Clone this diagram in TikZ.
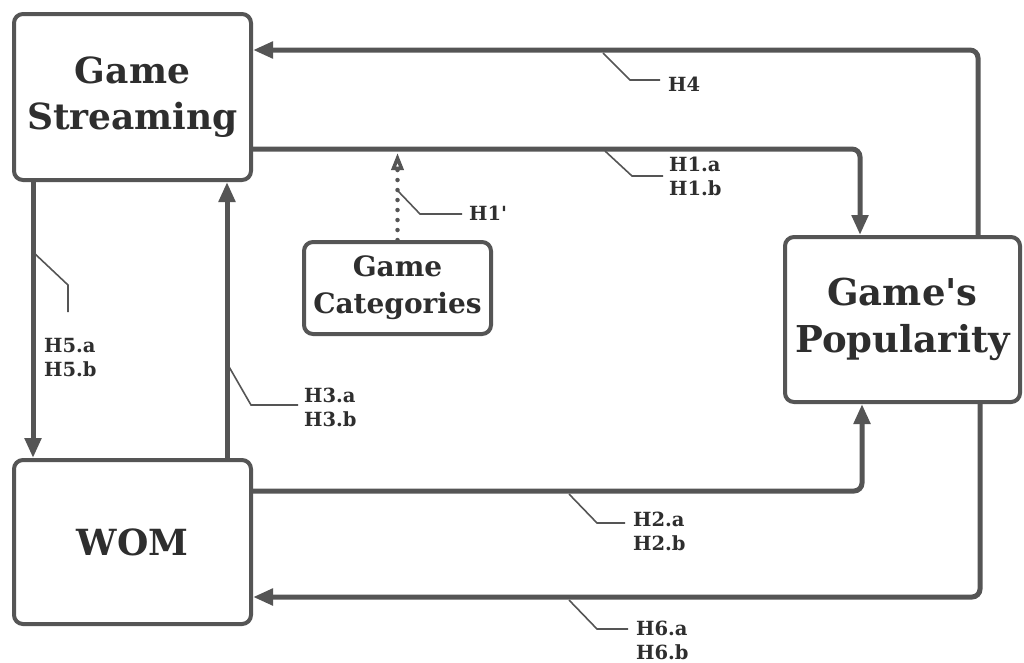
\documentclass[tikz,border=0pt]{standalone}
\usepackage{fontspec}
\setmainfont{DejaVu Serif}
\usetikzlibrary{arrows.meta}
\definecolor{ln}{HTML}{555555}
\definecolor{tx}{HTML}{2E2E2E}
\newcommand{\apo}{\XeTeXglyph\XeTeXglyphindex "quotesingle"\relax}
\begin{document}
\begin{tikzpicture}[x=1pt,y=-1pt,
  box/.style={draw=ln,line width=4pt,rounded corners=9pt,fill=white,align=center,text=tx,font=\bfseries,inner sep=0pt},
  conn/.style={draw=ln,line width=5pt,rounded corners=8pt,-{Triangle[length=20pt,width=16pt]}},
  dotconn/.style={draw=ln,line width=4.5pt,line cap=round,dash pattern=on 0pt off 10pt,-{Triangle[open,length=17pt,width=12pt,line width=3.5pt]}},
  lead/.style={draw=ln,line width=1.6pt},
  lab/.style={anchor=west,inner sep=0pt,align=left,text=tx,font=\fontsize{19.5}{24}\selectfont\bfseries}]
\useasboundingbox[fill=white] (0,0) rectangle (1024,662);
% nodes
\node[box,minimum width=237pt,minimum height=166pt,font=\fontsize{36}{46}\selectfont\bfseries] (gs) at (132.5,97) {Game\\Streaming};
\node[box,minimum width=187pt,minimum height=92pt,font=\fontsize{28}{37}\selectfont\bfseries] (cat) at (397.5,288) {Game\\Categories};
\node[box,minimum width=235pt,minimum height=165pt,font=\fontsize{37}{47}\selectfont\bfseries] (pop) at (902.5,319.5) {Game\apo s\\Popularity};
\node[box,minimum width=237pt,minimum height=164pt,font=\fontsize{36}{45}\selectfont\bfseries] (wom) at (132.5,542) {WOM};
% connectors
\draw[conn] (pop.north -| 978,0) |- (gs.east |- 0,50);
\draw[conn] (gs.east |- 0,149) -| (pop.north -| 860,0);
\draw[dotconn] (cat.north) -- (cat.north |- 0,153);
\draw[conn] (gs.south -| 33,0) -- (wom.north -| 33,0);
\draw[conn] (wom.north -| 227,0) -- (gs.south -| 227,0);
\draw[conn] (wom.east |- 0,491) -| (pop.south -| 862,0);
\draw[conn] (pop.south -| 980,0) |- (wom.east |- 0,597);
% leaders and labels
\coordinate (l4) at (603,53);
\draw[lead] (l4) -- (630,80) -- (660,80);
\node[lab] (t4) at (668,84) {H4};
\coordinate (l1) at (605,151);
\draw[lead] (l1) -- (632,176) -- (663,176);
\node[lab] (t1) at (669,176) {H1.a\\H1.b};
\coordinate (l1p) at (398,191);
\draw[lead] (l1p) -- (420,214) -- (462,214);
\node[lab] (t1p) at (469,213) {H1\apo};
\coordinate (l5) at (33,252);
\draw[lead] (l5) -- (68,285) -- (68,312);
\node[lab] (t5) at (44,358) {H5.a\\H5.b};
\coordinate (l3) at (228,365);
\draw[lead] (l3) -- (251,405) -- (298,405);
\node[lab] (t3) at (304,407) {H3.a\\H3.b};
\coordinate (l2) at (569,494);
\draw[lead] (l2) -- (597,523) -- (625,523);
\node[lab] (t2) at (633,531) {H2.a\\H2.b};
\coordinate (l6) at (569,600);
\draw[lead] (l6) -- (597,629) -- (628,629);
\node[lab] (t6) at (636,640) {H6.a\\H6.b};
\end{tikzpicture}
\end{document}
